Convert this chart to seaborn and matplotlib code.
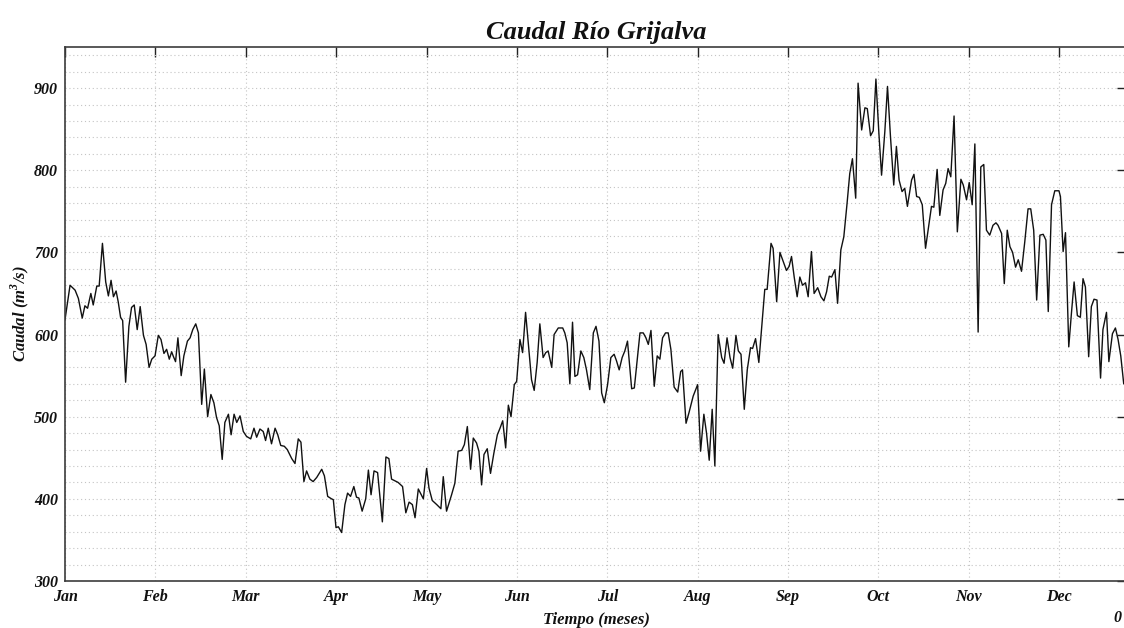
import matplotlib
matplotlib.use("Agg")
import matplotlib.pyplot as plt
from matplotlib.ticker import MultipleLocator, FixedLocator
import numpy as np
import pandas as pd
import seaborn as sns

# Daily discharge of the Grijalva river (day of year, m^3/s)
dia = [
    0.0, 1.7, 3.4, 4.5, 5.8, 6.7, 7.6, 8.7, 9.5, 10.7, 11.5, 12.6, 13.7, 14.6, 15.5, 16.3,
    17.2, 17.9, 18.7, 19.4, 20.4, 21.5, 22.4, 23.3, 24.3, 25.3, 26.4, 27.3, 28.3, 29.2,
    30.3, 31.4, 32.3, 33.3, 34.2, 35.1, 35.9, 36.4, 37.2, 38.0, 39.1, 40.0, 41.2, 42.1,
    43.0, 44.0, 44.9, 46.0, 46.9, 48.0, 49.1, 50.1, 51.0, 51.9, 52.9, 53.8, 55.0, 55.9,
    56.9, 57.8, 58.9,
    60.0, 61.1, 62.5, 63.6, 64.5, 65.6, 66.7, 67.5, 68.4, 69.5, 70.7, 71.6, 72.6, 73.8,
    74.8, 76.3, 77.4, 78.5, 79.4, 80.4, 81.3, 82.4, 83.5, 84.7, 86.4, 87.3, 88.4, 89.7,
    90.3, 91.2, 92.0, 93.1, 94.2, 95.1, 96.1, 97.2, 98.1, 98.9, 100.0, 101.2, 102.1,
    103.0, 104.0, 105.2, 106.8, 108.0, 109.0, 109.9, 112.1, 113.6, 114.7, 115.8, 116.9,
    117.8, 118.9, 120.6, 121.7, 122.5, 123.6, 125.1, 126.5, 127.3, 128.4, 130.1, 131.2,
    132.3, 133.5, 134.4, 135.4, 136.5, 137.4, 138.5, 139.3, 140.2, 141.0, 142.1, 143.2,
    144.3, 145.5, 146.4, 147.3, 148.3, 149.2, 150.1, 151.2, 152.0, 153.1, 154.0, 155.0,
    156.1, 157.0, 157.9, 158.9, 159.8, 160.9, 161.8, 162.6, 163.8, 164.6, 166.0, 167.5,
    168.2, 169.0, 169.9, 170.8, 171.6, 172.5, 173.6, 174.6, 175.5,
    176.6, 177.8, 178.7, 179.7, 180.6, 181.5, 182.6, 183.7, 184.8, 185.6, 186.5, 187.5,
    188.4, 189.3, 190.7, 191.6, 192.7, 193.5, 194.6, 195.5, 196.3, 197.2, 198.3, 199.3,
    200.2, 201.1, 202.1, 203.0, 203.9, 205.0, 206.2, 207.2, 207.8, 209.0, 210.0, 211.4,
    212.9, 213.9, 215.0, 215.9, 216.8, 217.8, 218.7, 219.8, 221.0, 221.8, 222.8, 223.8,
    224.7, 225.8, 226.6, 227.5, 228.6, 229.6, 230.7, 231.4, 232.4, 233.5, 234.4,
    235.5, 236.3, 237.6, 238.3, 239.5, 240.6, 241.7, 242.8, 243.7, 244.5, 245.4, 246.4,
    247.3, 248.2, 249.2, 250.1, 251.2, 252.1, 253.3, 254.4, 255.4, 256.3, 257.2, 258.0,
    259.1, 260.0, 261.1, 262.1, 263.2, 264.1, 265.0, 266.1, 266.9, 268.1, 269.2, 270.0,
    271.1, 272.0, 272.9, 273.9, 274.8, 275.9, 276.8, 277.8, 278.9, 279.8, 280.7, 281.7,
    282.6, 283.5, 284.9, 285.7, 286.6, 287.5, 288.5, 289.6, 290.7, 291.6, 292.4, 293.5,
    294.4,
    295.5, 296.4, 297.2, 298.1, 299.2, 300.3, 301.5, 302.3, 303.4, 304.3, 305.3, 306.2,
    307.3, 308.2, 309.2, 310.1, 311.2, 312.3, 313.3, 314.0, 315.2, 316.1, 317.1, 318.0,
    318.9, 319.9, 320.8, 321.9, 323.0, 324.1, 325.0, 326.0, 327.0, 328.1, 329.2, 330.1,
    330.9, 332.0, 333.1, 334.5, 335.0, 335.9, 336.7, 337.8, 338.7, 339.6, 340.7, 341.7,
    342.6, 343.4, 344.5, 345.4, 346.3, 347.3, 348.5, 349.3, 350.5, 351.3, 352.5, 353.5,
    354.4, 355.3, 356.3,
]
caudal = [
    618, 660, 654, 644, 620, 635, 632, 650, 636, 659, 659, 711, 664, 647, 666, 646,
    653, 640, 621, 617, 542, 610, 633, 636, 606, 634, 599, 588, 560, 570,
    574, 599, 594, 577, 582, 570, 579, 574, 567, 596, 550, 574, 592, 596,
    606, 613, 602, 515, 558, 500, 527, 517, 499, 489, 448, 493, 503, 478,
    503, 493, 501,
    482, 476, 473, 486, 475, 485, 482, 471, 486, 467, 486, 478, 465, 464,
    460, 449, 443, 473, 469, 421, 434, 424, 421, 426, 436, 428, 403, 400,
    399, 365, 366, 359, 393, 407, 403, 415, 402, 401, 385, 400, 435,
    405, 434, 432, 372, 451, 449, 424, 420, 415, 383, 396, 393,
    377, 412, 400, 437, 413, 398, 393, 388, 427, 385, 405, 419,
    458, 459, 466, 488, 436, 474, 468, 458, 417, 454, 461, 431,
    455, 478, 486, 495, 462, 514, 500, 539, 543, 594, 578, 627,
    582, 545, 532, 566, 613, 572, 578, 580, 560, 600, 608, 608,
    602, 590, 540, 615, 549, 551, 580, 572, 557,
    533, 602, 610, 592, 529, 517, 539, 572, 576, 568, 557, 572,
    580, 592, 534, 535, 574, 602, 602, 596, 588, 605, 537, 574,
    570, 596, 602, 602, 582, 536, 530, 555, 557, 492, 505, 525,
    539, 458, 503, 480, 447, 509, 440, 600, 572, 565, 596, 572,
    559, 599, 580, 576, 509, 557, 584, 583, 595, 566, 606,
    655, 655, 711, 705, 640, 700, 689, 678, 683, 695, 670, 646,
    670, 660, 663, 646, 701, 650, 657, 646, 641, 652, 671, 670,
    679, 638, 703, 719, 760, 796, 814, 766, 906, 849, 876, 875,
    842, 848, 911, 845, 794, 847, 902, 841, 782, 829, 788, 774,
    778, 756, 788, 795, 768, 767, 758, 705, 733, 756, 755, 801,
    745,
    776, 784, 802, 792, 866, 725, 789, 782, 764, 785, 758, 832,
    603, 804, 807, 727, 721, 733, 736, 733, 723, 662, 727, 707,
    700, 682, 691, 677, 713, 753, 753, 727, 642, 721, 722, 715,
    628, 758, 775, 775, 768, 701, 724, 585, 626, 664, 623, 621,
    668, 658, 573, 634, 643, 642, 547, 606, 627, 567, 601, 608,
    594, 574, 540,
]
meses = ["Jan", "Feb", "Mar", "Apr", "May", "Jun",
         "Jul", "Aug", "Sep", "Oct", "Nov", "Dec"]

df = pd.DataFrame({"dia": dia, "caudal": caudal})

sns.set_theme(style="white")
plt.rcParams["font.family"] = ["Liberation Serif", "DejaVu Serif"]
plt.rcParams["font.style"] = "italic"
plt.rcParams["font.weight"] = "bold"
plt.rcParams["axes.labelweight"] = "bold"
plt.rcParams["axes.titleweight"] = "bold"

fig = plt.figure(figsize=(11.24, 6.28), dpi=100)
ax = fig.add_axes([65 / 1124, 47 / 628, 1062 / 1124, 534 / 628])

sns.lineplot(data=df, x="dia", y="caudal", estimator=None, sort=False,
             color="#111111", linewidth=1.0, ax=ax)

ax.set_xlim(0, 357.4)
ax.set_ylim(300, 950)

ticks_mes = [i * 365 / 12 for i in range(len(meses))]
ax.xaxis.set_major_locator(FixedLocator(ticks_mes))
ax.set_xticklabels(meses)
ax.yaxis.set_major_locator(FixedLocator([300, 400, 500, 600, 700, 800, 900]))
ax.yaxis.set_minor_locator(MultipleLocator(20))

ax.grid(which="major", axis="both", linestyle=(0, (1, 2.5)), color="#c4c4c4", linewidth=0.8)
ax.grid(which="minor", axis="y", linestyle=(0, (1, 2.5)), color="#c4c4c4", linewidth=0.8)
ax.set_axisbelow(True)

ax.tick_params(which="major", direction="in", length=7, width=1.0, color="#222222",
               top=True, right=True, labelsize=11.5, labelcolor="#111111")
ax.tick_params(axis="x", pad=6)
ax.tick_params(axis="y", pad=5)
ax.tick_params(which="minor", length=0)

for s in ax.spines.values():
    s.set_color("#3c3c3c")
    s.set_linewidth(1.2)

ax.set_title("Caudal Río Grijalva", fontsize=19, fontweight="bold", style="italic",
             color="#111111", pad=6)
ax.set_xlabel("Tiempo (meses)", fontsize=12, fontweight="bold", color="#111111", labelpad=5)
ax.set_ylabel("Caudal (m$^{\\mathregular{3}}$/s)", fontsize=12, fontweight="bold",
              color="#111111", labelpad=2)

fig.text(1117 / 1124, 1 - 618 / 628, "0", fontsize=11.5, ha="center", va="center",
         color="#111111")

fig.savefig("out.png", dpi=100)
